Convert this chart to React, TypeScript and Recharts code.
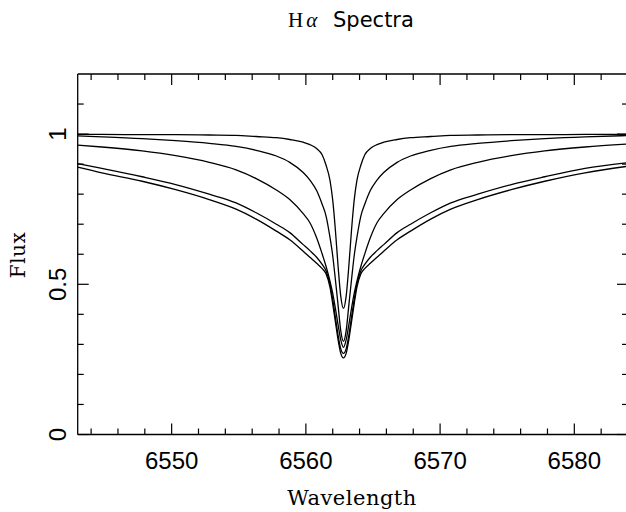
import { Line, LineChart, XAxis, YAxis } from "recharts";

// wavelength grid (Angstrom), read around the H-alpha core at 6562.8
const wavelength = [
  6543.0, 6544.8, 6547.8, 6550.3, 6552.8, 6554.8, 6556.3, 6557.8, 6558.8, 6559.8,
  6560.3, 6560.8, 6561.2, 6561.5, 6561.8, 6562.0, 6562.2, 6562.4, 6562.6, 6562.8,
  6563.0, 6563.2, 6563.4, 6563.6, 6563.8, 6564.1, 6564.4, 6564.8, 6565.3, 6565.8,
  6566.8, 6567.8, 6569.3, 6570.8, 6572.8, 6575.3, 6577.8, 6580.8, 6584.0,
];

// normalised flux, one list per profile (narrowest first)
const fluxA = [
  0.999, 0.999, 0.998, 0.998, 0.997, 0.996, 0.992, 0.988, 0.982, 0.973,
  0.965, 0.952, 0.932, 0.897, 0.845, 0.78, 0.68, 0.56, 0.46, 0.42,
  0.46, 0.56, 0.68, 0.78, 0.845, 0.897, 0.932, 0.952, 0.965, 0.973,
  0.982, 0.988, 0.992, 0.996, 0.997, 0.998, 0.998, 0.999, 0.999,
];
const fluxB = [
  0.994, 0.991, 0.985, 0.978, 0.969, 0.959, 0.946, 0.927, 0.906, 0.872,
  0.847, 0.812, 0.768, 0.728, 0.655, 0.595, 0.515, 0.43, 0.345, 0.31,
  0.345, 0.43, 0.515, 0.595, 0.655, 0.728, 0.768, 0.812, 0.847, 0.872,
  0.906, 0.927, 0.946, 0.959, 0.969, 0.978, 0.985, 0.991, 0.995,
];
const fluxC = [
  0.963, 0.957, 0.944, 0.928, 0.906, 0.881, 0.852, 0.814, 0.782, 0.735,
  0.705, 0.655, 0.603, 0.56, 0.51, 0.47, 0.42, 0.365, 0.315, 0.29,
  0.315, 0.365, 0.42, 0.47, 0.51, 0.56, 0.603, 0.655, 0.705, 0.735,
  0.782, 0.814, 0.852, 0.881, 0.906, 0.928, 0.944, 0.957, 0.967,
];
const fluxD = [
  0.902, 0.886, 0.858, 0.832, 0.8, 0.771, 0.738, 0.7, 0.672, 0.632,
  0.612, 0.59, 0.567, 0.545, 0.5, 0.45, 0.39, 0.33, 0.285, 0.27,
  0.285, 0.33, 0.39, 0.45, 0.5, 0.545, 0.567, 0.59, 0.612, 0.632,
  0.672, 0.7, 0.738, 0.771, 0.8, 0.832, 0.858, 0.886, 0.905,
];
const fluxE = [
  0.89, 0.871, 0.843, 0.815, 0.782, 0.75, 0.717, 0.677, 0.648, 0.61,
  0.59, 0.57, 0.553, 0.535, 0.49, 0.435, 0.375, 0.315, 0.27, 0.255,
  0.27, 0.315, 0.375, 0.435, 0.49, 0.535, 0.553, 0.57, 0.59, 0.61,
  0.648, 0.677, 0.717, 0.75, 0.782, 0.815, 0.843, 0.871, 0.893,
];

const xTicks = [
  6544, 6546, 6548, 6550, 6552, 6554, 6556, 6558, 6560, 6562, 6564,
  6566, 6568, 6570, 6572, 6574, 6576, 6578, 6580, 6582,
];
const yTicks = [0, 0.1, 0.2, 0.3, 0.4, 0.5, 0.6, 0.7, 0.8, 0.9, 1, 1.1];

const seriesKeys = ["a", "b", "c", "d", "e"];
const data = wavelength.map((w, i) => ({
  w,
  a: fluxA[i],
  b: fluxB[i],
  c: fluxC[i],
  d: fluxD[i],
  e: fluxE[i],
}));

const LABEL_FONT = "'Liberation Sans', Arial, sans-serif";
const TITLE_FONT = "'DejaVu Serif', serif";
const isMajorX = (v: number) => Math.round(v) % 10 === 0;
const isMajorY = (v: number) => Math.round(v * 10) % 5 === 0;

function BottomTick({ x, y, payload }: any) {
  const major = isMajorX(payload.value);
  return (
    <g>
      <line x1={x} x2={x} y1={y} y2={y - (major ? 11 : 6)} stroke="#000" strokeWidth={1.2} />
      {major && (
        <text x={x} y={y + 34} textAnchor="middle" fontSize={24} fontFamily={LABEL_FONT} fill="#000">
          {payload.value}
        </text>
      )}
    </g>
  );
}

function TopTick({ x, y, payload }: any) {
  const major = isMajorX(payload.value);
  return <line x1={x} x2={x} y1={y} y2={y + (major ? 11 : 6)} stroke="#000" strokeWidth={1.2} />;
}

function LeftTick({ x, y, payload }: any) {
  const major = isMajorY(payload.value);
  const lx = x - 12;
  return (
    <g>
      <line x1={x} x2={x + (major ? 11 : 6)} y1={y} y2={y} stroke="#000" strokeWidth={1.2} />
      {major && (
        <text
          x={lx}
          y={y}
          transform={`rotate(-90, ${lx}, ${y})`}
          textAnchor="middle"
          fontSize={24}
          fontFamily={LABEL_FONT}
          fill="#000"
        >
          {payload.value}
        </text>
      )}
    </g>
  );
}

function RightTick({ x, y, payload }: any) {
  const major = isMajorY(payload.value);
  return <line x1={x} x2={x - (major ? 11 : 6)} y1={y} y2={y} stroke="#000" strokeWidth={1.2} />;
}

export default function App() {
  return (
    <div style={{ position: "absolute", left: 0, top: 0, width: 626, height: 512, overflow: "hidden", background: "#fff" }}>
      <LineChart
        width={631}
        height={512}
        data={data}
        margin={{ top: 64, right: 2, bottom: 37.5, left: 17.7 }}
      >
        <XAxis
          xAxisId="b"
          dataKey="w"
          type="number"
          domain={[6543, 6584]}
          ticks={xTicks}
          interval={0}
          allowDataOverflow
          height={40}
          tickLine={false}
          tickSize={0}
          tickMargin={0}
          tick={<BottomTick />}
          axisLine={{ stroke: "#000", strokeWidth: 1.3 }}
        />
        <XAxis
          xAxisId="t"
          orientation="top"
          dataKey="w"
          type="number"
          domain={[6543, 6584]}
          ticks={xTicks}
          interval={0}
          allowDataOverflow
          height={10}
          tickLine={false}
          tickSize={0}
          tickMargin={0}
          tick={<TopTick />}
          axisLine={{ stroke: "#000", strokeWidth: 1.3 }}
        />
        <YAxis
          yAxisId="l"
          type="number"
          domain={[0, 1.2]}
          ticks={yTicks}
          interval={0}
          allowDataOverflow
          width={60}
          tickLine={false}
          tickSize={0}
          tickMargin={0}
          tick={<LeftTick />}
          axisLine={{ stroke: "#000", strokeWidth: 1.3 }}
        />
        <YAxis
          yAxisId="r"
          orientation="right"
          type="number"
          domain={[0, 1.2]}
          ticks={yTicks}
          interval={0}
          allowDataOverflow
          width={1}
          tickLine={false}
          tickSize={0}
          tickMargin={0}
          tick={<RightTick />}
          axisLine={{ stroke: "#000", strokeWidth: 1.3 }}
        />
        {seriesKeys.map((k) => (
          <Line
            key={k}
            xAxisId="b"
            yAxisId="l"
            dataKey={k}
            type="monotone"
            stroke="#000"
            strokeWidth={1.3}
            dot={false}
            activeDot={false}
            isAnimationActive={false}
          />
        ))}
      </LineChart>
      <svg
        width={626}
        height={512}
        style={{ position: "absolute", left: 0, top: 0, pointerEvents: "none" }}
      >
        <text x={288} y={27} fontSize={21} fill="#000">
          <tspan fontFamily="'Liberation Serif', serif">H</tspan>
          <tspan fontFamily="'Liberation Serif', serif" fontStyle="italic" dx={3}>α</tspan>
          <tspan x={333} fontFamily="'DejaVu Sans', sans-serif">Spectra</tspan>
        </text>
        <text
          x={25}
          y={255}
          transform="rotate(-90, 25, 255)"
          textAnchor="middle"
          fontSize={20}
          letterSpacing={0.5}
          fontFamily={TITLE_FONT}
          fill="#000"
        >
          Flux
        </text>
        <text
          x={352}
          y={505}
          textAnchor="middle"
          fontSize={21}
          letterSpacing={0.5}
          fontFamily={TITLE_FONT}
          fill="#000"
        >
          Wavelength
        </text>
      </svg>
    </div>
  );
}
